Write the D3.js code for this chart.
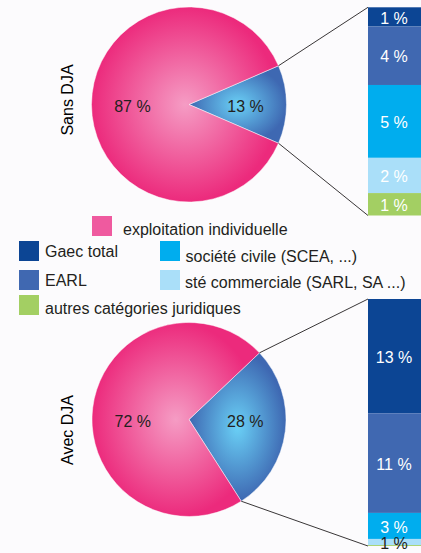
<!DOCTYPE html>
<html>
<head>
<meta charset="utf-8">
<script src="https://cdn.jsdelivr.net/npm/d3@7"></script>
<style>
  html, body { margin: 0; padding: 0; background: #fcfbfd; overflow: hidden; }
  svg { display: block; font-family: "Liberation Sans", Arial, sans-serif; }
</style>
</head>
<body>
<svg id="chart" width="421" height="553"></svg>
<script>
// ---------- DATA ----------
const groups = ["Sans DJA", "Avec DJA"];
const pieCategories = ["sociétés", "exploitation individuelle"];
const pieSocietes = [13, 28];
const pieIndividuelle = [87, 72];

const barCategories = ["Gaec total", "EARL", "société civile (SCEA, ...)", "sté commerciale (SARL, SA ...)", "autres catégories juridiques"];
const barSansDJA = [1.2, 3.65, 4.55, 2.2, 1.4];
const barAvecDJA = [12.95, 11.3, 2.95, 0.7, 0.1];

const legendLabels = ["exploitation individuelle", "Gaec total", "société civile (SCEA, ...)", "EARL", "sté commerciale (SARL, SA ...)", "autres catégories juridiques"];

// ---------- STYLE / LAYOUT ----------
const colors = {
  "exploitation individuelle": "#ef5a9f",
  "Gaec total": "#0c4594",
  "EARL": "#4068b1",
  "société civile (SCEA, ...)": "#00adee",
  "sté commerciale (SARL, SA ...)": "#aadff9",
  "autres catégories juridiques": "#a3cf63"
};
const textColor = "#231f20";
const layout = [
  { cx: 189, cy: 104.5, r: 97.5, blueCenterDeg: 90, barTop: 7.3, barBottom: 215.5, titleY: 100 },
  { cx: 189, cy: 419.5, r: 97, blueCenterDeg: 97, barTop: 299, barBottom: 546, titleY: 430 }
];
const barX = 368, barW = 56, barLabelX = 394;
const legendPos = [
  { sx: 92, sy: 216, tx: 123, ty: 235 },
  { sx: 19, sy: 241, tx: 45, ty: 256.7 },
  { sx: 160, sy: 241, tx: 185.5, ty: 261.5 },
  { sx: 19, sy: 270, tx: 45, ty: 285.7 },
  { sx: 160, sy: 270, tx: 185, ty: 287.5 },
  { sx: 19, sy: 295, tx: 45, ty: 313.5 }
];

const svg = d3.select("#chart");
svg.append("rect").attr("width", 421).attr("height", 553).attr("fill", "#fcfbfd");
const defs = svg.append("defs");

const pinkGrad = defs.append("radialGradient").attr("id", "gPink");
pinkGrad.append("stop").attr("offset", "0%").attr("stop-color", "#f59cc4");
pinkGrad.append("stop").attr("offset", "100%").attr("stop-color", "#ec2a7c");
const blueGrad = defs.append("radialGradient").attr("id", "gBlue");
blueGrad.append("stop").attr("offset", "0%").attr("stop-color", "#6ad0f6");
blueGrad.append("stop").attr("offset", "100%").attr("stop-color", "#3e68b2");

const barSeries = [barSansDJA, barAvecDJA];
const fmt = v => d3.format(".0f")(v) + " %";

groups.forEach((g, i) => {
  const L = layout[i];
  const vals = [pieSocietes[i], pieIndividuelle[i]];
  const total = d3.sum(vals);
  const half = vals[0] / total * Math.PI;
  const start = L.blueCenterDeg * Math.PI / 180 - half;
  const pie = d3.pie().sort(null).value(d => d).startAngle(start).endAngle(start + 2 * Math.PI);
  const arcs = pie(vals);
  const arc = d3.arc().innerRadius(0).outerRadius(L.r);

  const gp = svg.append("g").attr("transform", `translate(${L.cx},${L.cy})`);
  gp.selectAll("path").data(arcs).join("path")
    .attr("d", arc)
    .attr("fill", (d, j) => j === 0 ? "url(#gBlue)" : "url(#gPink)")
    .attr("stroke", "#ffffff").attr("stroke-width", 0.6).attr("stroke-opacity", 0.8);

  gp.selectAll("text.pl").data(arcs).join("text")
    .attr("class", "pl")
    .attr("x", d => (((d.startAngle + d.endAngle) / 2) % (2 * Math.PI) < Math.PI ? 1 : -1) * 0.58 * L.r)
    .attr("y", 2)
    .attr("dy", "0.35em")
    .attr("text-anchor", "middle")
    .attr("font-size", 16)
    .attr("fill", textColor)
    .text(d => fmt(d.data));

  // title
  svg.append("text")
    .attr("transform", `translate(73,${L.titleY}) rotate(-90)`)
    .attr("text-anchor", "middle")
    .attr("font-size", 16)
    .attr("fill", "#000")
    .text(g);

  // stacked bar
  const series = barSeries[i];
  const y = d3.scaleLinear().domain([0, d3.sum(series)]).range([L.barTop, L.barBottom]);
  const cum = d3.cumsum(series);
  const segs = series.map((v, k) => ({ cat: barCategories[k], v, y0: cum[k] - v, y1: cum[k] }));

  const gb = svg.append("g");
  gb.selectAll("rect").data(segs).join("rect")
    .attr("x", barX).attr("width", barW)
    .attr("y", d => y(d.y0))
    .attr("height", d => y(d.y1) - y(d.y0))
    .attr("fill", d => colors[d.cat]);

  const small = d => (y(d.y1) - y(d.y0)) < 12;
  gb.selectAll("text").data(segs.filter(d => d.v >= 0.5)).join("text")
    .attr("x", barLabelX)
    .attr("y", d => small(d) ? y(d.y1) + 4 : (y(d.y0) + y(d.y1)) / 2 + 1)
    .attr("dy", d => small(d) ? "0em" : "0.35em")
    .attr("text-anchor", "middle")
    .attr("font-size", 16)
    .attr("fill", d => small(d) ? textColor : "#ffffff")
    .text(d => fmt(d.v));

  // connector lines
  const a0 = arcs[0].startAngle, a1 = arcs[0].endAngle;
  const p0 = [L.cx + L.r * Math.sin(a0), L.cy - L.r * Math.cos(a0)];
  const p1 = [L.cx + L.r * Math.sin(a1), L.cy - L.r * Math.cos(a1)];
  svg.append("line").attr("x1", p0[0]).attr("y1", p0[1]).attr("x2", barX).attr("y2", y(0))
    .attr("stroke", textColor).attr("stroke-width", 0.9);
  svg.append("line").attr("x1", p1[0]).attr("y1", p1[1]).attr("x2", barX).attr("y2", y(d3.sum(series)))
    .attr("stroke", textColor).attr("stroke-width", 0.9);
});

// legend
const gl = svg.append("g");
legendLabels.forEach((lab, k) => {
  const p = legendPos[k];
  gl.append("rect").attr("x", p.sx).attr("y", p.sy).attr("width", 20).attr("height", 20).attr("fill", colors[lab]);
  gl.append("text").attr("x", p.tx).attr("y", p.ty).attr("font-size", 16).attr("fill", textColor).text(lab);
});
</script>
</body>
</html>
